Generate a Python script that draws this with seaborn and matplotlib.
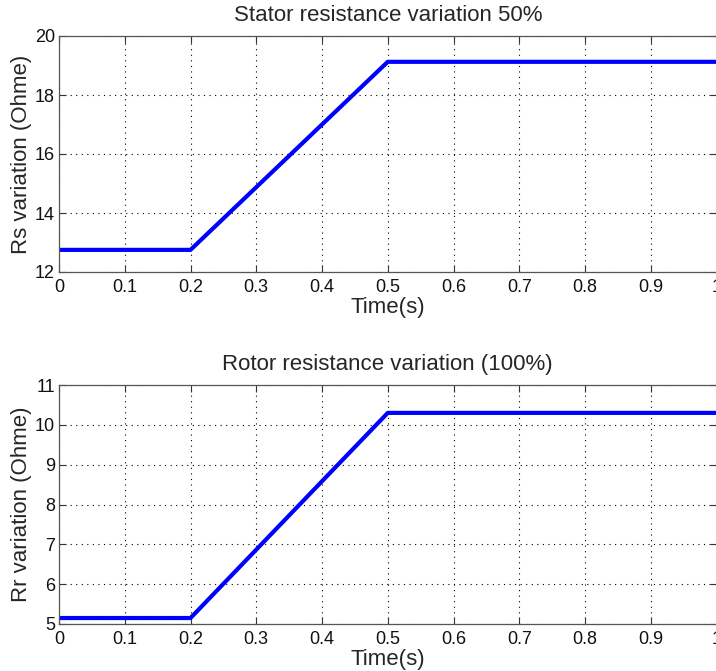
import matplotlib
matplotlib.use("Agg")
import matplotlib.pyplot as plt
import seaborn as sns
import pandas as pd

# Data
time_s = [0.0, 0.2, 0.5, 1.0]
rs_values = [12.75, 12.75, 19.125, 19.125]
rr_values = [5.15, 5.15, 10.3, 10.3]

top_title = "Stator resistance variation 50%"
bottom_title = "Rotor resistance variation (100%)"
x_ticks = [0, 0.1, 0.2, 0.3, 0.4, 0.5, 0.6, 0.7, 0.8, 0.9, 1]
x_ticklabels = ["0", "0.1", "0.2", "0.3", "0.4", "0.5", "0.6", "0.7", "0.8", "0.9", "1"]
rs_ticks = [12, 14, 16, 18, 20]
rr_ticks = [5, 6, 7, 8, 9, 10, 11]

sns.set_theme(style="white")
plt.rcParams['font.family'] = ['Liberation Sans', 'DejaVu Sans']

W, H = 716, 671
fig = plt.figure(figsize=(W / 100, H / 100), dpi=100)

def px_axes(left, top, right, bottom):
    return fig.add_axes([left / W, 1 - bottom / H, (right - left) / W, (bottom - top) / H])

ax1 = px_axes(59, 36, 716.5, 272)
ax2 = px_axes(59, 385, 716.5, 624)

df1 = pd.DataFrame({"t": time_s, "v": rs_values})
df2 = pd.DataFrame({"t": time_s, "v": rr_values})

for ax, df, title, ylab, yticks, ylim in [
    (ax1, df1, top_title, "Rs variation (Ohme)", rs_ticks, (12, 20)),
    (ax2, df2, bottom_title, "Rr variation (Ohme)", rr_ticks, (5, 11)),
]:
    sns.lineplot(data=df, x="t", y="v", ax=ax, color=(0, 0, 1), linewidth=3)
    ax.set_xlim(0, 1)
    ax.set_ylim(*ylim)
    ax.set_xticks(x_ticks)
    ax.set_xticklabels(x_ticklabels)
    ax.set_yticks(yticks)
    ax.grid(True, color="black", linestyle=(0, (1, 4)), linewidth=0.8)
    ax.tick_params(direction="in", length=5, width=0.8, colors="#333333",
                   top=True, right=True, bottom=True, left=True,
                   labelsize=13, labelcolor="#111111", pad=3)
    ax.tick_params(axis="x", pad=5)
    for s in ax.spines.values():
        s.set_color("#555555")
        s.set_linewidth(0.9)
        s.set_visible(True)
    ax.set_title(title, fontsize=16, pad=11)
    ax.set_xlabel("Time(s)", fontsize=16, labelpad=0.5)
    ax.set_ylabel(ylab, fontsize=16, labelpad=2)

fig.savefig("out.png", dpi=100)
